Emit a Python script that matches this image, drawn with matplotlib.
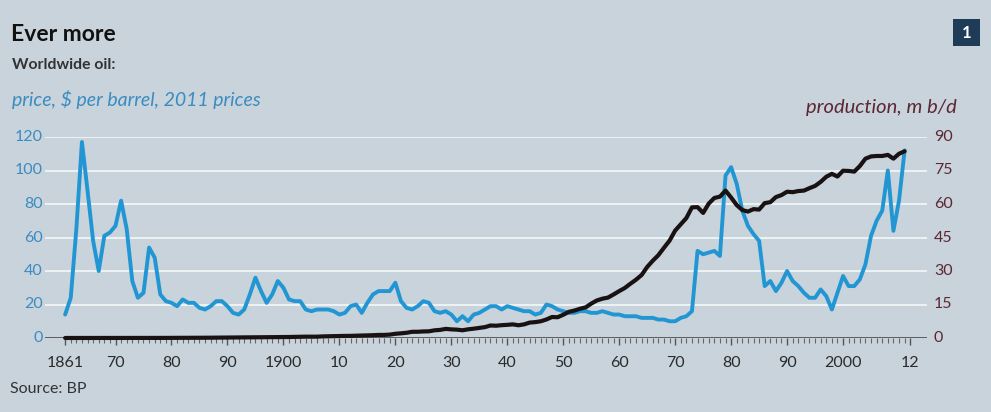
import matplotlib
matplotlib.use("Agg")
import matplotlib.pyplot as plt
from matplotlib.patches import Rectangle
from matplotlib.ticker import FixedLocator, NullFormatter

# ---- data -------------------------------------------------------------
years = list(range(1861, 2012))

# Oil price, $ per barrel in 2011 prices
price = [
    14, 24, 65, 117, 88, 58, 40, 61, 63,                # 1861-1869
    67, 82, 65, 34, 24, 27, 54, 48, 26, 22,             # 1870s
    21, 19, 23, 21, 21, 18, 17, 19, 22, 22,             # 1880s
    19, 15, 14, 17, 26, 36, 28, 21, 26, 34,             # 1890s
    30, 23, 22, 22, 17, 16, 17, 17, 17, 16,             # 1900s
    14, 15, 19, 20, 15, 21, 26, 28, 28, 28,             # 1910s
    33, 22, 18, 17, 19, 22, 21, 16, 15, 16,             # 1920s
    14, 10, 13, 10, 14, 15, 17, 19, 19, 17,             # 1930s
    19, 18, 17, 16, 16, 14, 15, 20, 19, 17,             # 1940s
    16, 15, 15, 16, 16, 15, 15, 16, 15, 14,             # 1950s
    14, 13, 13, 13, 12, 12, 12, 11, 11, 10,             # 1960s
    10, 12, 13, 16, 52, 50, 51, 52, 49, 97,             # 1970s
    102, 92, 76, 67, 62, 58, 31, 34, 28, 33,            # 1980s
    40, 34, 31, 27, 24, 24, 29, 25, 17, 27,             # 1990s
    37, 31, 31, 35, 44, 61, 70, 76, 100, 64,            # 2000s
    82, 112,                                            # 2010-2011
]

# Oil production, million barrels per day
production = [
    0.01, 0.01, 0.01, 0.01, 0.02, 0.02, 0.02, 0.02, 0.02,
    0.02, 0.02, 0.02, 0.03, 0.03, 0.03, 0.03, 0.04, 0.04, 0.06,
    0.08, 0.08, 0.08, 0.08, 0.10, 0.10, 0.12, 0.14, 0.14, 0.16,
    0.20, 0.21, 0.22, 0.25, 0.25, 0.28, 0.31, 0.33, 0.34, 0.36,
    0.41, 0.45, 0.50, 0.53, 0.60, 0.59, 0.59, 0.72, 0.78, 0.81,
    0.90, 0.94, 0.96, 1.05, 1.11, 1.18, 1.25, 1.38, 1.38, 1.51,
    1.89, 2.09, 2.34, 2.78, 2.79, 2.94, 2.99, 3.44, 3.63, 4.08,
    3.86, 3.74, 3.46, 3.89, 4.17, 4.51, 4.87, 5.60, 5.50, 5.74,
    5.89, 6.10, 5.70, 6.10, 6.90, 7.11, 7.50, 8.30, 9.40, 9.30,
    10.4, 11.7, 12.3, 13.1, 13.7, 15.4, 16.8, 17.6, 18.1, 19.5,
    21.0, 22.4, 24.3, 26.1, 28.2, 31.8, 34.6, 37.1, 40.4, 43.6,
    48.1, 50.9, 53.7, 58.5, 58.6, 56.0, 60.2, 62.7, 63.3, 66.0,
    62.9, 59.5, 57.3, 56.6, 57.7, 57.5, 60.4, 60.8, 63.1, 64.0,
    65.5, 65.3, 65.8, 66.0, 67.1, 68.1, 69.9, 72.2, 73.5, 72.3,
    74.9, 74.8, 74.5, 77.0, 80.3, 81.3, 81.5, 81.5, 82.0, 80.3,
    82.5, 83.6,
]

x_tick_years = [1861, 1870, 1880, 1890, 1900, 1910, 1920, 1930, 1940,
                1950, 1960, 1970, 1980, 1990, 2000, 2012]
x_tick_labels = ["1861", "70", "80", "90", "1900", "10", "20", "30", "40",
                 "50", "60", "70", "80", "90", "2000", "12"]
price_ticks = [0, 20, 40, 60, 80, 100, 120]
prod_ticks = [0, 15, 30, 45, 60, 75, 90]

# ---- style ------------------------------------------------------------
BG = "#c8d3db"
BLUE = "#2196d3"
BLUE_TXT = "#3a8cc2"
MAROON = "#5c2733"
DARK = "#2b2b2b"
FONT = "Lato"

W, H = 991, 412
fig = plt.figure(figsize=(W / 100, H / 100), dpi=100, facecolor=BG)


def fx(px):
    return px / W


def fy(py):
    return 1 - py / H


# plot area: 0 line at y=338 px, 120 line at y=137 px
ax = fig.add_axes([fx(45), fy(338), fx(927) - fx(45), (338 - 137) / H])
ax.set_facecolor(BG)
ax.set_xlim(1857.4, 2015.0)
ax.set_ylim(0, 120)
for s in ax.spines.values():
    s.set_visible(False)

# gridlines
for v in price_ticks[1:]:
    ax.axhline(v, color="#eef2f5", lw=1.4, zorder=1)
ax.axhline(0, color="#4a4a4a", lw=1.2, zorder=2)

# year ticks below the axis
ax.xaxis.set_major_locator(FixedLocator(x_tick_years))
ax.set_xticklabels(x_tick_labels, fontsize=11.5, color=DARK, family=FONT)
ax.xaxis.set_minor_locator(FixedLocator(list(range(1861, 2013))))
ax.xaxis.set_minor_formatter(NullFormatter())
ax.tick_params(axis="x", which="major", direction="out", length=5, width=1,
               color="#555555", pad=8)
ax.tick_params(axis="x", which="minor", direction="out", length=3.5, width=0.8,
               color="#666666")
ax.set_yticks([])

# price line (left scale)
ax.plot(years, price, color=BLUE, lw=2.8, solid_joinstyle="round",
        solid_capstyle="round", zorder=3, clip_on=False)

# production line (right scale, 90 m b/d aligned with $120)
ax2 = ax.twinx()
ax2.set_ylim(0, 90)
for s in ax2.spines.values():
    s.set_visible(False)
ax2.set_yticks([])
ax2.plot(years, production, color="#1a1212", lw=3.0, solid_joinstyle="round",
         solid_capstyle="round", zorder=4, clip_on=False)

# left tick labels
for v in price_ticks:
    py = 338 - v * (201 / 120)
    fig.text(fx(43), fy(py), str(v), ha="right", va="center", fontsize=11.5,
             color=BLUE_TXT, family=FONT)

# right tick labels
for v in prod_ticks:
    py = 338 - v * (201 / 90)
    fig.text(fx(934), fy(py), str(v), ha="left", va="center", fontsize=11.5,
             color=MAROON, family=FONT)

# titles and labels
fig.text(fx(11), fy(41), "Ever more", ha="left", va="baseline", fontsize=16.5,
         fontweight="bold", color="#111111", family=FONT)
fig.text(fx(12), fy(69), "Worldwide oil:", ha="left", va="baseline",
         fontsize=11.3, fontweight="bold", color="#333333", family=FONT)
fig.text(fx(12), fy(106), "price, $ per barrel, 2011 prices", ha="left",
         va="baseline", fontsize=14, style="italic", color=BLUE_TXT,
         family=FONT)
fig.text(fx(957), fy(113), "production, m b/d", ha="right", va="baseline",
         fontsize=14.5, style="italic", color=MAROON, family=FONT)
fig.text(fx(10), fy(389), "Source: BP", ha="left", va="center", fontsize=11.5,
         color="#333333", family=FONT)

# chart number badge
fig.patches.append(Rectangle((fx(953), fy(46)), fx(980) - fx(953), (46 - 19) / H,
                             transform=fig.transFigure, facecolor="#1e3b57",
                             edgecolor="none"))
fig.text(fx(966.5), fy(32.5), "1", ha="center", va="center", fontsize=12,
         fontweight="bold", color="white", family=FONT)

fig.savefig("out.png", dpi=100, facecolor=BG)
